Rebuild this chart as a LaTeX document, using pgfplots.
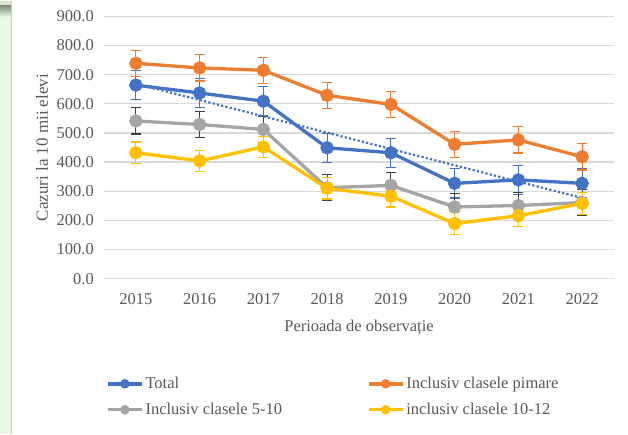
\documentclass[border=0pt]{standalone}
\usepackage{fontspec}
\setmainfont{Liberation Serif}
\usepackage{pgfplots}
\usepackage{pgfplotstable}
\pgfplotsset{compat=1.18}
\definecolor{cblue}{HTML}{4472C4}
\definecolor{corange}{HTML}{ED7D31}
\definecolor{cgray}{HTML}{A5A5A5}
\definecolor{cgrayerr}{HTML}{404040}
\definecolor{cyellow}{HTML}{FFC000}
\definecolor{ctext}{HTML}{595959}
\definecolor{cgrid}{HTML}{D9D9D9}
\definecolor{leftgreen}{HTML}{E9F8E5}
\definecolor{leftline}{HTML}{C9CCC8}
\definecolor{topdark}{HTML}{7F8F7C}
\definecolor{toplight}{HTML}{DCE6D6}

\pgfplotstableread{
x y e
0 664 50
1 637 50
2 609 50
3 449 50
4 432 50
5 327 50
6 339 50
7 327 50
}\total
\pgfplotstableread{
x y e
0 739 45
1 723 45
2 715 45
3 629 45
4 598 45
5 461 45
6 476 45
7 418 45
}\primare
\pgfplotstableread{
x y e
0 541 45
1 529 45
2 512 45
3 312 45
4 320 45
5 246 45
6 251 45
7 261 45
}\cincizece
\pgfplotstableread{
x y e
0 432 37
1 404 37
2 452 37
3 310 37
4 283 37
5 189 37
6 216 37
7 258 37
}\zecedoisprezece
\pgfplotstableread{
x y
0 669
7 277
}\trend

\begin{document}
\begin{tikzpicture}[x=1pt,y=1pt]
\fill[white] (0,0) rectangle (628,433);
\fill[leftgreen] (0,0) rectangle (11,433);
\fill[toplight] (0,428) rectangle (11,433);
\shade[top color=topdark, bottom color=leftgreen] (0,417) rectangle (11,428);
\draw[leftline, line width=1.3pt] (11.5,0) -- (11.5,433);

\begin{axis}[
  at={(104pt,155pt)}, anchor=south west,
  scale only axis, width=510pt, height=262.3pt,
  xmin=-0.5, xmax=7.5, ymin=0, ymax=900,
  xtick={0,...,7}, xticklabels={2015,2016,2017,2018,2019,2020,2021,2022},
  ytick={0,100,...,900},
  ymajorgrids, grid style={cgrid, line width=1.3pt},
  axis line style={draw=none}, major tick length=0pt,
  tick label style={font=\fontsize{16.5}{19}\selectfont, text=ctext},
  yticklabel style={anchor=east, inner sep=0pt, xshift=-10pt,
    /pgf/number format/fixed, /pgf/number format/fixed zerofill,
    /pgf/number format/precision=1, /pgf/number format/1000 sep={},
    /pgf/number format/assume math mode=true},
  xticklabel style={anchor=north, inner sep=0pt, yshift=-15pt},
  clip=false,
  legend columns=2,
  legend cell align=left,
  legend style={at={(0.004,-0.368)}, anchor=north west, draw=none, fill=none,
    font=\fontsize{16.5}{19}\selectfont, text=ctext, inner sep=0pt,
    nodes={inner sep=2pt},
    row sep=9pt,
    /tikz/every even column/.append style={column sep=83pt}},
  legend image code/.code={\draw[mark repeat=2,mark phase=2,mark size=3pt] plot coordinates {(0pt,0pt)(17pt,0pt)(34pt,0pt)};},
]
\addplot[color=cblue, line width=3.3pt, mark=*, mark size=5pt,
  error bars/.cd, y dir=both, y explicit,
  error bar style={line width=1.2pt, color=cblue},
  error mark options={rotate=90, mark size=5pt, line width=1.2pt, color=cblue}]
  table[x=x, y=y, y error=e] {\total};
\addlegendentry{Total}
\addplot[color=corange, line width=3.3pt, mark=*, mark size=5pt,
  error bars/.cd, y dir=both, y explicit,
  error bar style={line width=1.2pt, color=corange},
  error mark options={rotate=90, mark size=5pt, line width=1.2pt, color=corange}]
  table[x=x, y=y, y error=e] {\primare};
\addlegendentry{Inclusiv clasele pimare}
\addplot[color=cgray, line width=3.3pt, mark=*, mark size=5pt,
  error bars/.cd, y dir=both, y explicit,
  error bar style={line width=1.2pt, color=cgrayerr},
  error mark options={rotate=90, mark size=5pt, line width=1.2pt, color=cgrayerr}]
  table[x=x, y=y, y error=e] {\cincizece};
\addlegendentry{Inclusiv clasele 5-10}
\addplot[color=cyellow, line width=3.3pt, mark=*, mark size=5pt,
  error bars/.cd, y dir=both, y explicit,
  error bar style={line width=1.2pt, color=cyellow},
  error mark options={rotate=90, mark size=5pt, line width=1.2pt, color=cyellow}]
  table[x=x, y=y, y error=e] {\zecedoisprezece};
\addlegendentry{inclusiv clasele 10-12}
\addplot[forget plot, color=cblue, line width=2.2pt, dash pattern=on 2.2pt off 2.2pt]
  table[x=x, y=y] {\trend};
\end{axis}

\node[rotate=90, font=\fontsize{17}{20}\selectfont, text=ctext] at (42,286) {Cazuri la 10 mii elevi};
\node[font=\fontsize{16.5}{19}\selectfont, text=ctext] at (359,106) {Perioada de observație};
\end{tikzpicture}
\end{document}
